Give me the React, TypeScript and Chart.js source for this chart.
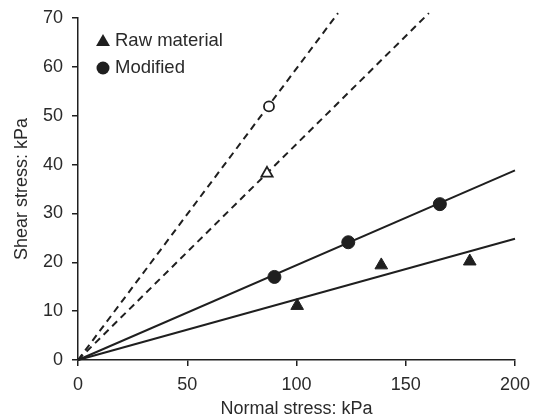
import React, { useEffect, useRef } from 'react';
import { Chart, registerables } from 'chart.js';

Chart.register(...registerables);

// Measured data
const rawX = [100.3, 138.8, 179.3];
const rawY = [11.1, 19.4, 20.2];
const modX = [89.9, 123.7, 165.6];
const modY = [17.0, 24.1, 31.9];

// Fitted residual envelopes (solid) and peak envelopes (dashed)
const rawFitX = [0, 200];
const rawFitY = [0, 24.8];
const modFitX = [0, 200];
const modFitY = [0, 38.8];
const rawPeakX = [0, 160.6];
const rawPeakY = [0, 71];
const modPeakX = [0, 119];
const modPeakY = [0, 71];
const rawPeakPtX = [86.5];
const rawPeakPtY = [38.2];
const modPeakPtX = [87.4];
const modPeakPtY = [51.9];

const xMin = 0;
const xMax = 200;
const xStep = 50;
const yMin = 0;
const yMax = 70;
const yStep = 10;

const legendLabels = ['Raw material', 'Modified'];
const xTitle = 'Normal stress: kPa';
const yTitle = 'Shear stress: kPa';

const INK = '#1f1f1f';
const TEXT = '#2a2a2a';
const FONT = "'Liberation Sans', Arial, sans-serif";

const zip = (xs: number[], ys: number[]) => xs.map((x, i) => ({ x, y: ys[i] }));

const legendPlugin = {
  id: 'customLegend',
  afterDraw(chart: any) {
    const { ctx, chartArea } = chart;
    const mx = chartArea.left + 25;
    const tx = chartArea.left + 37;
    const y1 = chartArea.top + 24;
    const y2 = chartArea.top + 50;
    ctx.save();
    ctx.fillStyle = INK;
    const r = 8;
    ctx.beginPath();
    ctx.moveTo(mx, y1 - r);
    ctx.lineTo(mx + r * Math.sin((2 * Math.PI) / 3), y1 - r * Math.cos((2 * Math.PI) / 3));
    ctx.lineTo(mx + r * Math.sin((4 * Math.PI) / 3), y1 - r * Math.cos((4 * Math.PI) / 3));
    ctx.closePath();
    ctx.fill();
    ctx.beginPath();
    ctx.arc(mx, y2, 6.5, 0, Math.PI * 2);
    ctx.fill();
    ctx.fillStyle = TEXT;
    ctx.font = `18.5px ${FONT}`;
    ctx.textBaseline = 'middle';
    ctx.textAlign = 'left';
    ctx.fillText(legendLabels[0], tx, y1 - 1);
    ctx.fillText(legendLabels[1], tx, y2);
    ctx.restore();
  },
};

export default function App() {
  const ref = useRef<HTMLCanvasElement | null>(null);

  useEffect(() => {
    if (!ref.current) return;
    const lineDs = (data: any, dashed: boolean) => ({
      type: 'scatter' as const,
      data,
      showLine: true,
      borderColor: INK,
      borderWidth: 2,
      borderDash: dashed ? [7, 5] : [],
      pointRadius: 0,
      clip: false as any,
      order: 2,
    });
    const chart = new Chart(ref.current, {
      type: 'scatter',
      data: {
        datasets: [
          lineDs(zip(rawFitX, rawFitY), false),
          lineDs(zip(modFitX, modFitY), false),
          lineDs(zip(rawPeakX, rawPeakY), true),
          lineDs(zip(modPeakX, modPeakY), true),
          {
            label: legendLabels[0],
            data: zip(rawX, rawY),
            pointStyle: 'triangle',
            pointRadius: 7.3,
            backgroundColor: INK,
            borderColor: INK,
            borderWidth: 1,
            order: 1,
          },
          {
            label: legendLabels[1],
            data: zip(modX, modY),
            pointStyle: 'circle',
            pointRadius: 6.5,
            backgroundColor: INK,
            borderColor: INK,
            borderWidth: 1,
            order: 1,
          },
          {
            label: 'Raw material peak',
            data: zip(rawPeakPtX, rawPeakPtY),
            pointStyle: 'triangle',
            pointRadius: 6.5,
            backgroundColor: '#ffffff',
            borderColor: INK,
            borderWidth: 1.8,
            order: 1,
          },
          {
            label: 'Modified peak',
            data: zip(modPeakPtX, modPeakPtY),
            pointStyle: 'circle',
            pointRadius: 5,
            backgroundColor: '#ffffff',
            borderColor: INK,
            borderWidth: 1.8,
            order: 1,
          },
        ],
      },
      options: {
        animation: false,
        responsive: false,
        layout: { padding: { left: 0, right: 19, top: 18, bottom: 0 } },
        plugins: {
          legend: { display: false },
          tooltip: { enabled: false },
        },
        scales: {
          x: {
            type: 'linear',
            min: xMin,
            max: xMax,
            ticks: {
              stepSize: xStep,
              color: TEXT,
              font: { size: 18, family: FONT },
              padding: 8,
              maxRotation: 0,
            },
            grid: {
              drawOnChartArea: false,
              drawTicks: true,
              tickLength: 6,
              color: INK,
              lineWidth: 1.5,
            },
            border: { display: true, color: INK, width: 1.5 },
            title: {
              display: true,
              text: xTitle,
              color: TEXT,
              font: { size: 18, family: FONT },
              padding: { top: 0, bottom: 0 },
            },
            afterFit: (s: any) => {
              s.height = 60;
              s.paddingLeft = 0;
              s.paddingRight = 0;
            },
          },
          y: {
            type: 'linear',
            min: yMin,
            max: yMax,
            ticks: {
              stepSize: yStep,
              color: TEXT,
              font: { size: 18, family: FONT },
              padding: 9,
            },
            grid: {
              drawOnChartArea: false,
              drawTicks: true,
              tickLength: 6,
              color: INK,
              lineWidth: 1.5,
            },
            border: { display: true, color: INK, width: 1.5 },
            title: {
              display: true,
              text: yTitle,
              color: TEXT,
              font: { size: 18, family: FONT },
              padding: { top: 11, bottom: 0 },
            },
            afterFit: (s: any) => {
              s.width = 78;
              s.paddingTop = 0;
              s.paddingBottom = 0;
            },
          },
        },
      },
      plugins: [legendPlugin],
    });
    return () => chart.destroy();
  }, []);

  return (
    <div style={{ position: 'absolute', left: 0, top: 0, width: 534, height: 420, background: '#fff' }}>
      <canvas ref={ref} width={534} height={420} style={{ display: 'block' }} />
    </div>
  );
}
